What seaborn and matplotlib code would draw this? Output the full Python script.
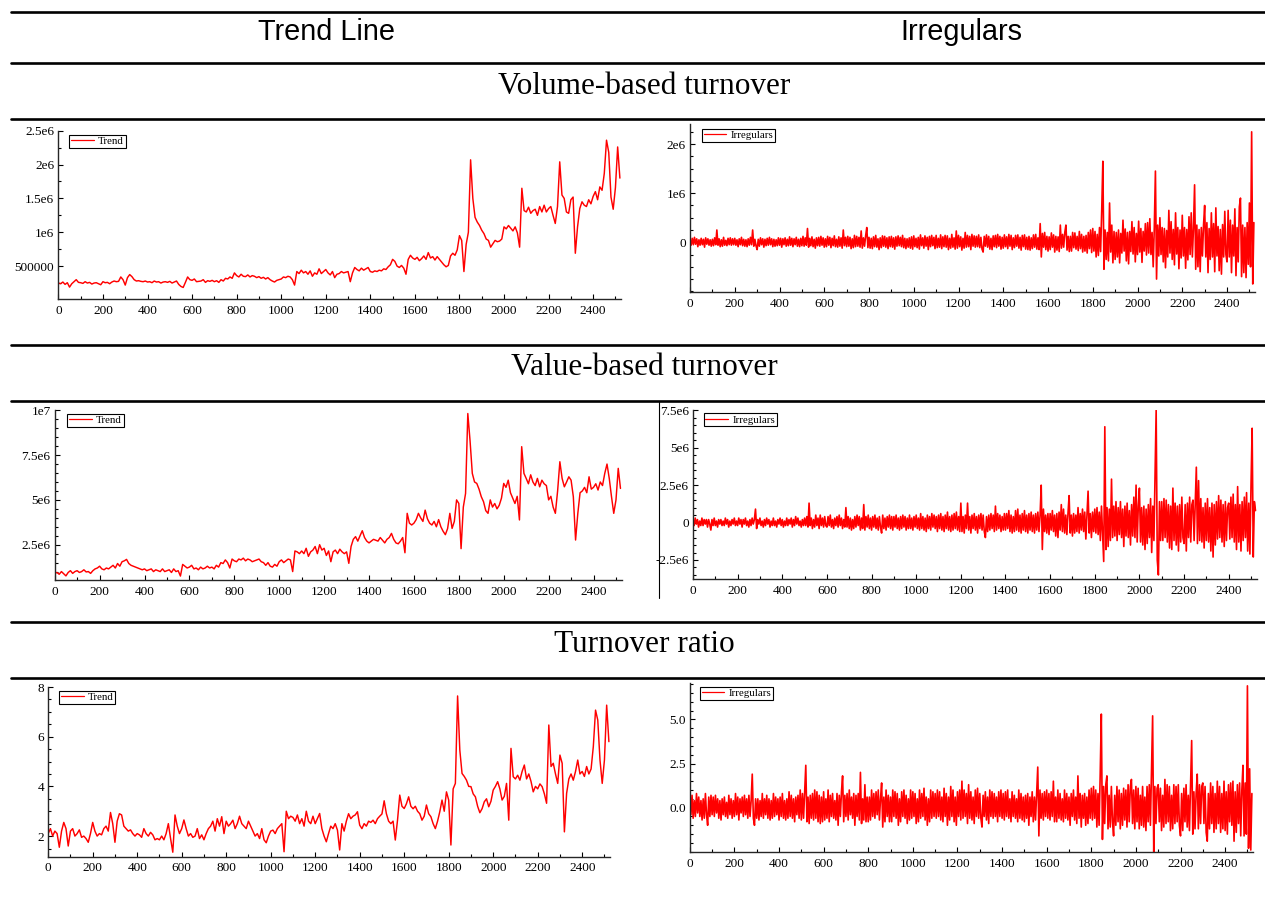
"""Trend line / irregulars decomposition for three turnover measures."""

import numpy as np
import pandas as pd
import matplotlib
matplotlib.use("Agg")
import matplotlib.pyplot as plt
import seaborn as sns
from matplotlib.ticker import MultipleLocator

W, H = 1265, 897

# observation index: trend read every 10 days, irregulars every 5 days
obs10 = np.arange(0, 2521, 10)
obs5 = np.arange(0, 2521, 5)

# ---- volume-based turnover ----
# trend in thousands
vol_trend_k = [
    250, 240, 265, 230, 255, 190, 240, 270, 300, 260,
    255, 245, 270, 250, 260, 235, 250, 255, 240, 225,
    270, 255, 260, 240, 265, 280, 270, 275, 340, 300,
    220, 330, 375, 345, 300, 280, 285, 275, 270, 280,
    265, 270, 255, 280, 265, 270, 250, 265, 270, 260,
    275, 250, 265, 280, 230, 200, 185, 260, 340, 300,
    290, 310, 270, 275, 280, 300, 260, 285, 275, 290,
    270, 285, 260, 300, 280, 320, 310, 340, 320, 400,
    360, 340, 380, 350, 345, 370, 340, 360, 350, 330,
    345, 320, 335, 310, 330, 300, 280, 265, 290, 300,
    310, 340, 330, 350, 340, 300, 220, 420, 390, 440,
    400, 420, 380, 430, 350, 400, 380, 460, 390, 420,
    450, 400, 370, 420, 330, 380, 390, 420, 400, 410,
    420, 270, 400, 480, 450, 430, 470, 440, 460, 480,
    420, 410, 430, 420, 440, 430, 460, 450, 490, 520,
    600, 570, 500, 480, 510, 470, 380, 600, 660, 620,
    600, 630, 580, 610, 650, 600, 700, 620, 640, 590,
    640, 600, 560, 520, 490, 510, 650, 690, 660, 740,
    950, 880, 420, 820, 1000, 2070, 1500, 1220, 1150, 1100,
    1030, 980, 900, 880, 780, 830, 880, 860, 870, 900,
    1080, 1050, 1100, 1060, 1020, 1080, 990, 780, 1650, 1320,
    1300, 1370, 1280, 1320, 1340, 1250, 1380, 1300, 1400, 1300,
    1350, 1380, 1250, 1130, 1380, 2040, 1550, 1500, 1300, 1280,
    1480, 1520, 690, 1080, 1350, 1450, 1400, 1380, 1480, 1420,
    1530, 1600, 1480, 1670, 1620, 1870, 2360, 2180, 1520, 1340,
    1660, 2260, 1800,
]
# irregulars in units of 10 000
vol_irr_10k = [
    4, -6, 8, -5, 10, -4, 7, -9, 5, -6, 8, -5, 6, -10, 9, -4, 7, -6, 5, -8,
    6, -7, 9, -5, 25, -6, 7, -9, 5, -8, 10, -6, 4, -7, 8, -5, 9, -6, 7, -5,
    8, -6, 5, -9, 7, -5, 10, -7, 6, -8, 5, -9, 7, -6, 10, -5, 25, -8, 6, -7,
    -15, 6, -8, 9, -5, 7, -10, 6, -7, 8, -6, 10, -5, 7, -9, 6, -8, 5, -7, 9,
    -6, 8, -10, 7, -5, 9, -8, 6, -7, 11, -6, 8, -9, 7, -5, 10, -8, 6, -9, 8,
    -7, 12, -8, 9, -6, 28, -10, 8, -7, 11, -9, 6, -12, 9, -7, 10, -8, 12, -6, 9,
    -10, 7, -9, 12, -6, 10, -11, 8, -7, 13, -9, 6, -10, 11, -8, 9, -12, 25, -7, 10,
    -9, 12, -8, 10, -13, 7, -11, 14, -9, 12, -8, 10, -10, 23, -12, 9, -8, 13, 30, -11,
    10, -12, 8, -13, 11, -9, 14, -10, 7, -15, 9, -11, 13, -8, 12, -10, 9, -13, 11, -9,
    12, -10, 9, -14, 11, -8, 13, -7, 10, -9, 14, -11, 8, -13, 7, -10, 9, -12, 11, -14,
    13, -9, 8, -11, 10, -14, 15, -7, 9, -12, 13, -8, 10, -15, 12, -9, 14, -7, 10, -13,
    14, -11, 8, -10, 15, -13, 11, -9, 14, -10, 13, -15, 8, -12, 16, -10, 9, -14, 23, -12,
    14, -9, 11, -16, 8, -12, 20, -10, 14, -9, 12, -15, 16, -8, 13, -10, 12, -9, 15, -11,
    10, -14, -20, 12, -8, 15, -10, 12, -14, 8, -15, 13, -9, 14, -11, 16, -8, 12, -14, 10,
    -12, 15, -9, 11, -13, 16, -8, 14, -15, 9, -11, 14, -8, 15, -12, 10, -16, 14, -9, 15,
    -14, 10, -15, 12, -16, 9, -13, 15, -10, 16, -14, 9, -15, 38, -30, 18, -10, 20, -15, 12,
    -18, 11, -15, 19, -10, 15, -20, 12, -16, 11, -19, 35, -12, 16, -10, 20, 35, -16, 12, -19,
    12, -18, 20, -11, 19, -14, 12, -17, 22, -13, 16, -20, 12, -18, 14, -22, 20, -13, 25, -21,
    28, -18, 22, -30, 16, -27, 30, -19, 65, 165, -55, 25, -35, 20, -38, 80, -20, 35, -42, 22,
    -35, 20, -30, 25, -42, 18, -22, 45, -18, 27, -38, 20, -44, 22, -19, 42, -24, 30, -40, 18,
    -25, 43, -20, 28, -41, 22, -18, 38, -26, 40, -22, 48, -25, 20, -50, 30, 145, -75, 35, -28,
    50, -25, 30, -40, 28, -52, 24, -30, 65, -22, 42, -35, 26, -46, 60, -24, 30, -54, 25, -32,
    55, -28, 30, -53, 26, -36, 52, -25, 60, -30, 28, 117, -55, 35, -50, 26, -60, 30, -28, 35,
    75, -30, 40, -62, 28, -35, 60, -30, 38, -60, 70, -28, 32, -58, 26, -65, 36, -30, 63, -25,
    -40, 65, -30, 45, -62, 35, -28, 68, -68, 30, -40, 72, 90, -70, 35, -62, 30, -72, 40, -45,
    80, -50, 225, -85, 40,
]

# ---- value-based turnover ----
# trend in thousands
val_trend_k = [
    900, 950, 850, 1000, 880, 760, 950, 1050, 900, 1000,
    1050, 950, 1000, 1100, 980, 1000, 900, 1050, 1150, 1200,
    1300, 1150, 1100, 1200, 1150, 1250, 1350, 1200, 1450, 1300,
    1550, 1600, 1680, 1450, 1350, 1300, 1250, 1200, 1150, 1100,
    1150, 1050, 1100, 1150, 1000, 1100, 1050, 1000, 1150, 1000,
    1050, 1100, 950, 1150, 1000, 1050, 750, 1400, 1300, 1200,
    1250, 1350, 1150, 1200, 1100, 1250, 1150, 1200, 1300, 1200,
    1250, 1150, 1350, 1250, 1500, 1450, 1650, 1500, 1200, 1700,
    1600, 1550, 1700, 1650, 1750, 1600, 1700, 1650, 1550, 1600,
    1650, 1700, 1550, 1500, 1350, 1500, 1300, 1250, 1400, 1300,
    1550, 1650, 1500, 1600, 1700, 1650, 1000, 2150, 2100, 2000,
    2150, 2000, 2300, 1850, 2100, 2200, 2400, 2000, 2500, 2200,
    2300, 1900, 2150, 1550, 2100, 2200, 2000, 2250, 2100, 2000,
    2100, 1460, 2400, 2800, 2950, 2700, 3000, 3280, 2900, 2700,
    2600, 2700, 2800, 2750, 2700, 2900, 2750, 2600, 2800, 2900,
    3130, 2800, 2600, 2550, 2700, 2900, 2050, 4250, 3700, 3600,
    3700, 3900, 4250, 4000, 3800, 4430, 3950, 3700, 3600, 3800,
    3500, 3900, 3500, 3250, 3060, 3400, 4250, 3410, 3800, 5000,
    4800, 2280, 4600, 5360, 9820, 8300, 6480, 6000, 5920, 5600,
    5180, 4900, 4400, 4250, 5000, 4600, 4800, 4500, 4700, 5100,
    5920, 5700, 6100, 5400, 5100, 4800, 5200, 3880, 7970, 6480,
    6200, 5900, 6400, 6000, 5800, 6200, 5730, 6100, 5900, 5800,
    5000, 5200, 4600, 4250, 5500, 7130, 6200, 5730, 6000, 6290,
    6100, 5180, 2760, 4250, 5400, 5500, 5700, 5400, 6290, 5600,
    5700, 5900, 5550, 6000, 5800, 6480, 7000, 6200, 5180, 4250,
    5000, 6760, 5640,
]
# irregulars in units of 100 000
val_irr_100k = [
    2, -2, 3, -1, 2, -3, 1, -2, 3, -2, 2, -1, 2, -3, 2, -1, -5, 2, -2, 3,
    -2, 1, -3, 2, -1, 2, -2, 1, -2, 3, -1, 2, -3, 1, -2, 2, -1, 3, -2, 1,
    -2, 3, -1, 2, -3, 2, -1, 3, -2, 1, -3, 2, -2, 3, -1, 2, 9, -4, 2, -1,
    3, -2, 1, -3, 2, -2, 3, -1, 2, -3, 1, -2, 3, -2, 1, -3, 2, -1, 3, -2,
    2, -3, 1, -2, 3, -2, 2, -1, 3, -3, 2, -2, 4, -1, 3, -2, 1, -3, 2, -2,
    3, -2, 4, -3, 13, -2, 3, -4, 2, -3, 5, -2, 3, -4, 5, -2, 3, -3, 4, -2,
    -3, 4, -2, 5, -3, 2, -4, 3, -2, 4, -3, 5, -2, 3, -4, 2, -3, 10, -3, 4,
    -4, 3, -5, 2, -4, 4, -3, 5, -2, 4, -5, 3, -4, 12, -5, 4, -3, 5, -4, 3,
    -5, 4, -3, 5, -4, 3, -5, 4, -3, -7, 5, -4, 3, -5, 4, -3, 5, -4, 4, -5,
    4, -3, 5, -4, 3, -5, 4, -4, 5, -3, 4, -5, 3, -4, 5, -4, 3, -5, 4, -3,
    5, -4, 3, -5, 6, -4, 4, -5, 3, -6, 5, -4, 4, -5, 6, -3, 5, -4, 4, -6,
    5, -4, 6, -5, 4, -6, 5, -4, 7, -5, 4, -6, 5, -5, 6, -4, 7, -5, 4, -6,
    13, -6, 4, -7, 5, -4, 13, -5, 4, -7, 5, -4, 6, -5, 4, -7, 5, -4, 6, -5,
    5, -6, -10, 4, -6, 5, -5, 6, -4, 5, -6, 11, -5, 6, -4, 5, -6, 4, -5, 6,
    -5, 6, -4, 8, -6, 5, -7, 4, -6, 8, -5, 9, -6, 5, -7, 6, -5, 8, -6, 5,
    -7, 6, -5, 7, -6, 5, -7, 6, -5, 7, -6, 5, 25, -18, 9, -6, 5, -7, 6, -8,
    6, -5, 8, -6, 5, -9, 6, -10, 7, -5, 12, -6, 9, -7, 5, -8, 6, 18, -7, 5,
    -9, 6, -7, 5, -6, 10, -7, 6, -5, 9, -6, 7, -11, 5, 21, -7, 6, -10, 7, -6,
    9, -7, 10, -8, 7, -12, 11, -7, -26, 64, -18, 10, -16, 9, -12, 29, -10, 11, -9, 14,
    -12, 10, -8, 14, -10, 9, -16, 11, -9, 13, -10, 8, -15, 12, -9, 17, -10, 25, -13, 11,
    23, -13, 10, -15, 11, -18, 9, -14, 12, -10, 16, -20, 11, -12, 30, 75, -25, -35, 14, -12,
    14, -12, 16, -10, 15, -13, 12, -17, 11, -18, 23, -12, 13, -15, 11, -19, 12, -13, 17, -10,
    -14, 12, -19, 13, -10, 17, -13, 12, 15, -12, 13, 37, -14, 28, -12, 16, -13, 10, -17, 13,
    -12, 16, -13, 10, -19, 13, -23, 12, -15, 14, -11, 18, -10, 15, -13, 12, -16, 14, -12, 10,
    13, -11, 17, -10, 19, -13, 12, -18, 24, -13, 12, -19, 14, -12, 17, -10, 20, -19, 13, -21,
    25, 63, -23, 14, 8,
]

# ---- turnover ratio ----
tr_trend = [
    2.1, 2.3, 2.0, 2.2, 2.1, 1.55, 2.2, 2.55, 2.3, 1.6,
    2.2, 2.3, 2.0, 2.1, 2.25, 1.95, 2.0, 1.9, 1.75, 2.1,
    2.55, 2.2, 2.0, 2.1, 2.05, 2.3, 2.4, 2.2, 2.95, 2.5,
    1.75, 2.6, 2.9, 2.85, 2.4, 2.3, 2.2, 2.25, 2.1, 2.0,
    2.1, 2.05, 1.95, 2.3, 2.1, 2.0, 2.15, 2.05, 1.85, 1.9,
    1.85, 2.0, 1.85, 2.1, 2.5, 1.9, 1.35, 2.85, 2.4, 2.1,
    2.3, 2.65, 2.3, 2.0, 2.1, 1.95, 2.0, 2.3, 1.9, 2.05,
    1.85, 2.1, 2.3, 2.4, 2.6, 2.2, 2.7, 2.4, 2.78, 2.1,
    2.6, 2.4, 2.5, 2.64, 2.3, 2.5, 2.8, 2.5, 2.4, 2.3,
    2.6, 2.4, 2.2, 2.0, 2.1, 1.9, 2.3, 1.85, 1.73, 2.0,
    2.2, 2.24, 2.1, 2.3, 2.4, 2.5, 1.37, 3.0, 2.7, 2.8,
    2.75, 2.6, 2.85, 2.5, 2.7, 2.4, 3.0, 2.6, 2.5, 2.8,
    2.5, 2.7, 2.91, 2.3, 2.0, 1.77, 2.1, 2.4, 2.3, 2.5,
    2.24, 1.44, 2.5, 2.2, 2.6, 2.9, 2.7, 2.8, 2.85, 2.98,
    2.44, 2.3, 2.5, 2.4, 2.6, 2.55, 2.64, 2.5, 2.7, 2.8,
    2.89, 3.42, 2.9, 2.6, 2.5, 2.6, 1.84, 2.64, 3.65, 3.2,
    3.11, 3.3, 3.58, 3.2, 3.1, 3.2, 3.0, 2.9, 2.64, 2.8,
    3.25, 2.9, 2.78, 2.5, 2.3, 2.6, 2.98, 3.45, 3.0, 3.78,
    3.45, 1.64, 3.9, 4.12, 7.64, 5.46, 4.52, 4.4, 4.25, 4.0,
    3.99, 3.7, 3.58, 3.2, 2.94, 3.1, 3.38, 3.5, 3.18, 3.4,
    3.85, 4.0, 4.19, 3.9, 3.45, 3.6, 4.12, 2.64, 5.53, 4.39,
    4.3, 4.45, 4.25, 4.6, 4.86, 4.3, 4.5, 4.2, 3.78, 4.0,
    3.9, 4.1, 3.99, 3.7, 3.32, 6.47, 4.8, 4.93, 4.5, 4.12,
    5.26, 4.93, 2.17, 3.72, 4.3, 4.5, 4.25, 4.6, 5.06, 4.5,
    4.6, 4.4, 4.8, 4.5, 4.7, 5.6, 7.07, 6.67, 5.06, 4.12,
    5.06, 7.27, 5.8,
]
# irregulars in tenths
tr_irr_tenths = [
    5, -4, 7, -6, 4, -5, 8, -3, 6, -5, 4, -7, 5, -6, 8, -4, -10, 6, -5, 7,
    -4, 6, -5, 7, -3, 5, -6, 4, -7, 5, -4, 6, -5, 3, -6, 7, -4, 5, -6, 4,
    -5, 8, -4, 6, -7, 5, -3, 6, -5, 7, -4, 5, -6, 7, -5, 4, 19, -6, -10, 5,
    -6, 5, -7, 4, -5, 8, -6, 5, -4, 7, -6, 5, -7, 4, -6, 8, -5, 6, -4, 5,
    -7, 6, -5, 8, -6, 4, -7, 5, -6, 9, -5, 7, -6, 5, -8, 6, -4, 7, -6, 10,
    -7, 8, -6, 9, 24, -8, 6, -9, 7, -6, 8, -7, 10, -6, 9, -8, 7, -9, 6, -8,
    9, -7, 5, -6, 10, -8, 7, -5, 8, -6, 4, -7, 8, -10, 7, -5, 9, 18, -8, 7,
    -5, 8, -7, 10, -4, 6, -6, 8, -10, 7, -5, 8, -7, 20, -9, 5, -7, 13, -8, 6,
    -8, 6, -7, 10, -5, 8, -6, 9, -4, 10, -7, 5, 14, -11, 6, -8, 10, -5, 7, -8,
    6, -8, 10, -5, 9, -6, 8, -10, 5, -8, 9, -5, 10, -6, 7, -9, 5, -7, 10, -6,
    9, -5, 8, -9, 5, -8, 10, -6, 8, -5, 11, -7, 6, -10, 5, -8, 10, -6, 9, -5,
    8, -6, 10, -5, 9, -7, 6, -8, 11, -5, 8, -10, 6, -7, 12, -5, 10, -8, 6, -10,
    9, -5, 10, -7, 15, -6, 10, -5, 8, -9, 13, -6, 9, -7, 6, -9, 10, -5, 11, -6,
    8, -6, -11, 7, -5, 9, -7, 6, -9, 10, -5, 9, -6, 8, -5, 6, -8, 9, -5, 10,
    -6, 8, -7, 9, -5, 10, -6, 5, -8, 9, -5, 7, -6, 5, -8, 10, -6, 8, -7, 6,
    -8, 7, -6, 8, -10, 6, -5, 9, -8, 6, -7, 8, 23, -16, 10, -6, 8, -7, 9, -5,
    10, -6, 8, -7, 9, -5, 15, -8, 6, -8, 10, -6, 8, -7, 5, -8, 10, -6, 8, -7,
    6, -10, 8, -5, 10, -7, 6, -9, 18, -6, 8, -11, 7, -6, 8, -10, 6, -9, 10, -6,
    11, -7, 12, -6, 10, -11, 8, -10, 19, 53, -18, 12, -9, 13, 18, -12, 7, -11, 12, -8,
    -16, 7, -10, 12, -8, 10, -12, 8, -10, 11, -7, 10, -11, 13, -8, 12, 16, -9, 10, -12,
    12, -8, 11, -12, 7, -10, 12, -11, 6, -13, 12, -8, 13, -10, 20, 52, -25, 12, -9, 11,
    13, -8, 11, -13, 7, -11, 16, -9, 13, -8, 12, -13, 7, -12, 13, -9, 12, -8, 13, -10,
    -16, 8, -13, 11, -8, 13, -11, 7, -13, 12, 38, -15, 9, -12, 8, 19, -12, 13, -9, 12,
    14, -9, 12, -14, -19, 8, -12, 14, -9, 12, -14, 8, -12, 15, -9, 12, -14, 8, -12, 15,
    -13, 9, -15, 13, -8, 14, -10, 15, -19, 9, -14, 13, -9, 14, -16, 10, 24, -16, 14, -15,
    69, -23, 22, -24, 8,
]

sns.set_style("ticks")
plt.rcParams["font.family"] = ["Liberation Serif", "DejaVu Serif"]
plt.rcParams["text.color"] = "black"
plt.rcParams["axes.linewidth"] = 1.0

fig = plt.figure(figsize=(W / 100, H / 100), dpi=100)


def fx(px):
    return px / W


def fy(py):
    return 1 - py / H


def panel(box, t, values, label, ylim, yticks, ylabels, yminor, leg_xy, lw):
    x0, x1, y0, y1 = box
    ax = fig.add_axes([fx(x0), fy(y1), (x1 - x0) / W, (y1 - y0) / H])
    df = pd.DataFrame({"t": t, "v": values})
    sns.lineplot(data=df, x="t", y="v", ax=ax, color="#ff0000",
                 linewidth=lw, label=label)
    ax.set_xlim(0, 2525)
    ax.set_ylim(*ylim)
    ax.set_xticks(range(0, 2401, 200), [str(v) for v in range(0, 2401, 200)])
    ax.set_yticks(yticks, ylabels)
    ax.xaxis.set_minor_locator(MultipleLocator(100))
    ax.yaxis.set_minor_locator(MultipleLocator(yminor))
    ax.set_xlabel("")
    ax.set_ylabel("")
    ax.tick_params(which="both", direction="in", width=0.8, labelsize=9.5,
                   colors="black")
    ax.tick_params(which="major", length=3.5)
    ax.tick_params(which="minor", length=2)
    ax.tick_params(axis="x", pad=4)
    ax.tick_params(axis="y", pad=3)
    sns.despine(ax=ax)
    leg = ax.legend(loc="upper left",
                    bbox_to_anchor=(fx(leg_xy[0]), fy(leg_xy[1])),
                    bbox_transform=fig.transFigure, borderaxespad=0,
                    fancybox=False, edgecolor="black", framealpha=1,
                    fontsize=7.8, borderpad=0.15, handlelength=2.1,
                    handletextpad=0.4)
    leg.get_frame().set_linewidth(0.8)
    for line in leg.get_lines():
        line.set_linewidth(0.9)
    return ax


TREND_LW, IRR_LW = 1.05, 1.2

panel((58.4, 621, 130.7, 299.3), obs10, np.array(vol_trend_k) * 1e3, "Trend",
      (1e4, 2.5e6), [5e5, 1e6, 1.5e6, 2e6, 2.5e6],
      ["500000", "1e6", "1.5e6", "2e6", "2.5e6"], 2.5e5, (69.3, 135), TREND_LW)
panel((690, 1255, 124, 292.3), obs5, np.array(vol_irr_10k) * 1e4, "Irregulars",
      (-1.02e6, 2.41e6), [0, 1e6, 2e6], ["0", "1e6", "2e6"], 2.5e5,
      (702, 129), IRR_LW)
panel((54.7, 621.6, 410.3, 580), obs10, np.array(val_trend_k) * 1e3, "Trend",
      (0.53e6, 1e7), [2.5e6, 5e6, 7.5e6, 1e7],
      ["2.5e6", "5e6", "7.5e6", "1e7"], 5e5, (67.3, 414), TREND_LW)
panel((693, 1256.6, 410.3, 579.3), obs5, np.array(val_irr_100k) * 1e5,
      "Irregulars", (-3.79e6, 7.5e6), [-2.5e6, 0, 2.5e6, 5e6, 7.5e6],
      ["-2.5e6", "0", "2.5e6", "5e6", "7.5e6"], 5e5, (703.8, 413.3), IRR_LW)
panel((48.2, 610, 687, 856.7), obs10, tr_trend, "Trend",
      (1.17, 8), [2, 4, 6, 8], ["2", "4", "6", "8"], 0.5, (59.2, 690.7),
      TREND_LW)
panel((689.8, 1253, 682.7, 852.3), obs5, np.array(tr_irr_tenths) / 10,
      "Irregulars", (-2.53, 7.08), [0, 2.5, 5], ["0.0", "2.5", "5.0"], 0.5,
      (700, 686.7), IRR_LW)

# table rules
for y in [11.7, 63.3, 119, 345, 400.7, 621.7, 677.7]:
    fig.add_artist(plt.Line2D([fx(11), 1], [fy(y), fy(y)], color="black",
                              linewidth=1.9))
fig.add_artist(plt.Line2D([fx(658.7), fx(658.7)], [fy(401.7), fy(598)],
                          color="black", linewidth=0.8))

sans = ["Liberation Sans", "DejaVu Sans"]
fig.text(fx(327), fy(40), "Trend Line", ha="center", va="baseline",
         fontsize=20.8, family=sans)
fig.text(fx(961), fy(40), "Irregulars", ha="center", va="baseline",
         fontsize=20.8, family=sans)
for y, title in [(94, "Volume-based turnover"), (375, "Value-based turnover"),
                 (651.7, "Turnover ratio")]:
    fig.text(fx(644), fy(y), title, ha="center", va="baseline", fontsize=22.5)

fig.savefig("out.png", dpi=100)
